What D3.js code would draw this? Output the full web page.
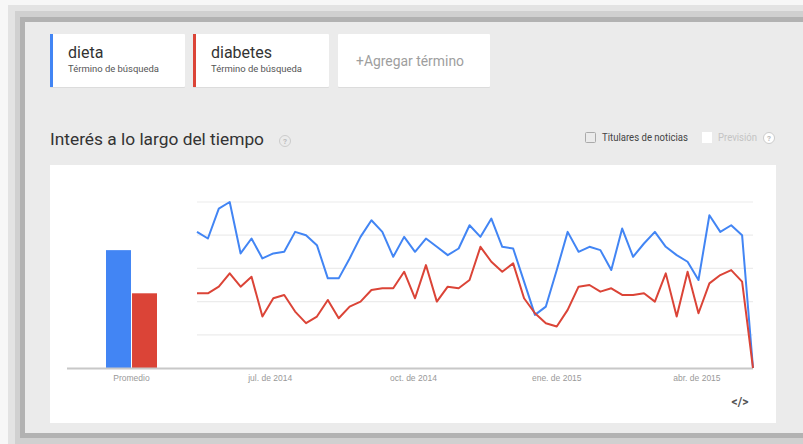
<!DOCTYPE html>
<html>
<head>
<meta charset="utf-8">
<script src="https://cdn.jsdelivr.net/npm/d3@7"></script>
<style>
  body { margin: 0; background: #f7f7f7; }
  svg { display: block; font-family: Roboto, Arial, sans-serif; }
</style>
</head>
<body>
<svg id="chart" width="803" height="444"></svg>
<script>
// search terms + colours
const terms = ['dieta', 'diabetes'];
const termColors = ['#4285f4', '#db4437'];

// weekly interest (0-100)
const dieta = [82, 78, 96, 100, 69, 78, 66, 69, 70, 82, 80, 74, 54, 54, 66, 79, 89, 82, 67, 79, 70, 78, 73, 68, 72, 86, 79,
  90, 73, 72, 52, 32, 37, 59, 82, 70, 73, 71, 59, 84, 67, 75, 82, 73, 68, 64, 53, 92, 82, 86, 80, 0];
const diabetes = [45, 45, 49, 57, 49, 55, 31, 42, 44, 34, 27, 31, 41, 30, 37, 40, 47, 48, 48, 58, 42, 62, 40, 49, 48, 53, 73,
  64, 58, 63, 42, 33, 27, 25, 35, 49, 50, 46, 48, 44, 44, 45, 40, 57, 31, 58, 33, 51, 56, 59, 52, 0];

// "Promedio" bars
const averages = [71, 45];

// axis ticks
const tickDates = ['2014-07-01', '2014-10-01', '2015-01-01', '2015-04-01'];
const tickLabels = ['jul. de 2014', 'oct. de 2014', 'ene. de 2015', 'abr. de 2015'];

const weeks = d3.utcDay.range(new Date(Date.UTC(2014, 4, 15)), new Date(Date.UTC(2015, 4, 14)), 7);

const svg = d3.select('#chart');

// screenshot frame / shadow
svg.append('rect').attr('x', 8).attr('y', 5).attr('width', 800).attr('height', 444).attr('fill', '#e3e3e3');
svg.append('rect').attr('x', 15).attr('y', 11).attr('width', 800).attr('height', 444).attr('fill', '#d0d0d0');
svg.append('rect').attr('x', 20).attr('y', 17).attr('width', 800).attr('height', 421).attr('fill', '#b2b2b2');
svg.append('rect').attr('x', 25).attr('y', 22).attr('width', 790).attr('height', 411).attr('fill', '#ebebeb');

// term cards
const cards = [
  { x: 50, w: 135, title: terms[0], color: termColors[0] },
  { x: 193, w: 136, title: terms[1], color: termColors[1] },
  { x: 338, w: 152, title: null, color: null }
];
cards.forEach(c => {
  svg.append('rect').attr('x', c.x).attr('y', 35).attr('width', c.w).attr('height', 53).attr('fill', '#dcdcdc').attr('rx', 1);
  svg.append('rect').attr('x', c.x).attr('y', 34).attr('width', c.w).attr('height', 53).attr('fill', '#fff').attr('rx', 1);
  if (c.color) {
    svg.append('rect').attr('x', c.x).attr('y', 34).attr('width', 3).attr('height', 53).attr('fill', c.color);
    svg.append('text').attr('x', c.x + 18).attr('y', 58).attr('font-size', 16).attr('fill', '#333').text(c.title);
    svg.append('text').attr('x', c.x + 18).attr('y', 72).attr('font-size', 9.5).attr('fill', '#555')
      .attr('textLength', 91).attr('lengthAdjust', 'spacingAndGlyphs').text('Término de búsqueda');
  } else {
    svg.append('text').attr('x', c.x + 18).attr('y', 66).attr('font-size', 14).attr('fill', '#9e9e9e')
      .attr('textLength', 108).attr('lengthAdjust', 'spacingAndGlyphs').text('+Agregar término');
  }
});

// section title
svg.append('text').attr('x', 50).attr('y', 145).attr('font-size', 17).attr('fill', '#333')
  .attr('textLength', 214).attr('lengthAdjust', 'spacingAndGlyphs').text('Interés a lo largo del tiempo');

function helpIcon(cx, cy, fill) {
  svg.append('circle').attr('cx', cx).attr('cy', cy).attr('r', 5.5).attr('fill', fill).attr('stroke', '#ccc');
  svg.append('text').attr('x', cx).attr('y', cy + 3).attr('text-anchor', 'middle').attr('font-size', 8)
    .attr('font-weight', 'bold').attr('fill', '#bbb').text('?');
}
helpIcon(285, 141, '#ebebeb');

// checkboxes
svg.append('rect').attr('x', 585.5).attr('y', 132.5).attr('width', 10).attr('height', 10).attr('rx', 1)
  .attr('fill', '#ebebeb').attr('stroke', '#aaa');
svg.append('text').attr('x', 602).attr('y', 141).attr('font-size', 10.5).attr('fill', '#444')
  .attr('textLength', 86).attr('lengthAdjust', 'spacingAndGlyphs').text('Titulares de noticias');
svg.append('rect').attr('x', 702).attr('y', 132).attr('width', 10).attr('height', 11).attr('fill', '#fff');
svg.append('text').attr('x', 718).attr('y', 141).attr('font-size', 10.5).attr('fill', '#c4c4c4')
  .attr('textLength', 39).attr('lengthAdjust', 'spacingAndGlyphs').text('Previsión');
helpIcon(769, 138, '#fff');

// chart card
svg.append('rect').attr('x', 50).attr('y', 165).attr('width', 726).attr('height', 258).attr('fill', '#fff');

const x = d3.scaleUtc().domain([weeks[0], weeks[weeks.length - 1]]).range([197, 753]);
const y = d3.scaleLinear().domain([0, 100]).range([368, 202]);

// gridlines
svg.append('g').selectAll('line').data([20, 40, 60, 80, 100]).join('line')
  .attr('x1', 197).attr('x2', 753)
  .attr('y1', d => y(d)).attr('y2', d => y(d))
  .attr('stroke', '#ececec').attr('stroke-width', 1.2);

// average bars
const xBand = d3.scaleBand().domain(['Promedio']).range([106, 157]);
const xInner = d3.scaleBand().domain(terms).range([0, xBand.bandwidth()]).paddingInner(0.04);
svg.append('g').selectAll('rect').data(averages).join('rect')
  .attr('x', (d, i) => xBand('Promedio') + xInner(terms[i]))
  .attr('width', xInner.bandwidth())
  .attr('y', d => y(d))
  .attr('height', d => y(0) - y(d))
  .attr('fill', (d, i) => termColors[i]);

svg.append('text').attr('x', xBand('Promedio') + xBand.bandwidth() / 2).attr('y', 381)
  .attr('text-anchor', 'middle').attr('font-size', 8.5).attr('fill', '#999')
  .attr('font-family', 'Arial, Liberation Sans, sans-serif').text('Promedio');

// baseline
svg.append('line').attr('x1', 67).attr('x2', 753).attr('y1', y(0) + 0.5).attr('y2', y(0) + 0.5)
  .attr('stroke', '#c8c8c8').attr('stroke-width', 2);

// x-axis labels
svg.append('g').selectAll('text').data(tickDates).join('text')
  .attr('x', d => x(new Date(d + 'T00:00:00Z')))
  .attr('y', 381)
  .attr('text-anchor', 'middle')
  .attr('font-size', 8.5)
  .attr('font-family', 'Arial, Liberation Sans, sans-serif')
  .attr('fill', '#999')
  .text((d, i) => tickLabels[i]);

// lines
const line = d3.line().x((d, i) => x(weeks[i])).y(d => y(d));
[dieta, diabetes].forEach((values, k) => {
  svg.append('path').datum(values)
    .attr('d', line)
    .attr('fill', 'none')
    .attr('stroke', termColors[k])
    .attr('stroke-width', 2)
    .attr('stroke-linejoin', 'round');
});

// embed icon
svg.append('text').attr('x', 740).attr('y', 406).attr('text-anchor', 'middle').attr('font-size', 12)
  .attr('font-weight', 'bold').attr('fill', '#555').text('</>');
</script>
</body>
</html>
